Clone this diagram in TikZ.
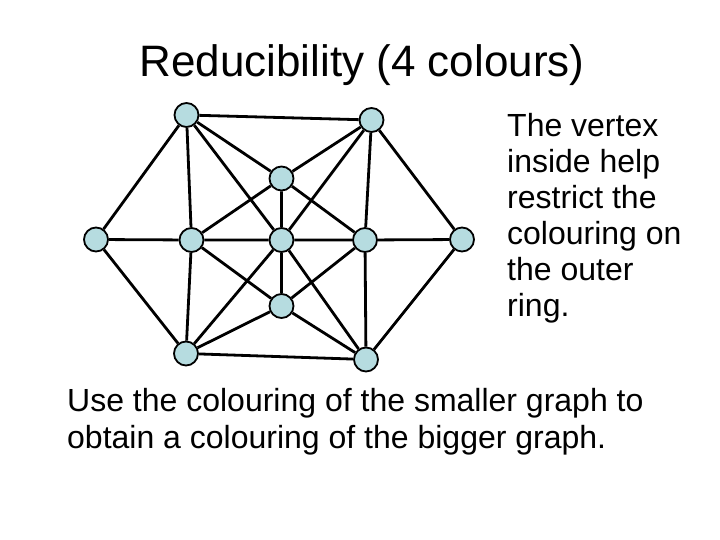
\documentclass[tikz,border=0pt]{standalone}
\usepackage{fontspec}
\setmainfont{Liberation Sans}
\definecolor{vfill}{RGB}{182,220,224}
\begin{document}
\begin{tikzpicture}[x=1pt,y=-1pt,
  vtx/.style={circle,draw=black,line width=1.8pt,fill=vfill,minimum size=24pt,inner sep=0pt},
  edge/.style={draw=black,line width=2.8pt},
  ttl/.style={font=\fontsize{44}{52}\selectfont,inner sep=0pt,anchor=base},
  txt/.style={font=\fontsize{32}{38}\selectfont,inner sep=0pt,anchor=base west}]
\useasboundingbox (0,0) rectangle (720,540);
% title
\node[ttl] (title) at (362,77) {Reducibility (4 colours)};
% vertices
\node[vtx] (TL) at (186.5,115) {};
\node[vtx] (TR) at (371.5,120) {};
\node[vtx] (L)  at (96,239.5) {};
\node[vtx] (ML) at (191.5,240) {};
\node[vtx] (C)  at (281.5,240) {};
\node[vtx] (MR) at (365,240) {};
\node[vtx] (R)  at (462,239.5) {};
\node[vtx] (T)  at (281.5,178.5) {};
\node[vtx] (B)  at (281.5,306) {};
\node[vtx] (BL) at (186,353.5) {};
\node[vtx] (BR) at (366,359.5) {};
% edges
\path[edge] (TL) -- (TR) (TL) -- (L) (TL) -- (ML) (TL) -- (C) (TL) -- (T)
  (TR) -- (R) (TR) -- (T) (TR) -- (C) (TR) -- (MR)
  (L) -- (ML) (ML) -- (C) (C) -- (MR) (MR) -- (R)
  (L) -- (BL) (R) -- (BR) (BL) -- (BR)
  (ML) -- (T) (T) -- (C) (T) -- (MR)
  (ML) -- (BL) (ML) -- (B)
  (C) -- (BL) (C) -- (B) (C) -- (BR)
  (B) -- (BL) (B) -- (BR)
  (MR) -- (B) (MR) -- (BR);
% right text
\node[txt] (r1) at (507,136.7) {The vertex};
\node[txt] (r2) at (507,172.7) {inside help};
\node[txt] (r3) at (507,208.7) {restrict the};
\node[txt] (r4) at (507,244.7) {colouring on};
\node[txt] (r5) at (507,280.7) {the outer};
\node[txt] (r6) at (507,316.7) {ring.};
% bottom text
\node[txt] (b1) at (67,411.5) {Use the colouring of the smaller graph to};
\node[txt] (b2) at (67,448) {obtain a colouring of the bigger graph.};
\end{tikzpicture}
\end{document}
